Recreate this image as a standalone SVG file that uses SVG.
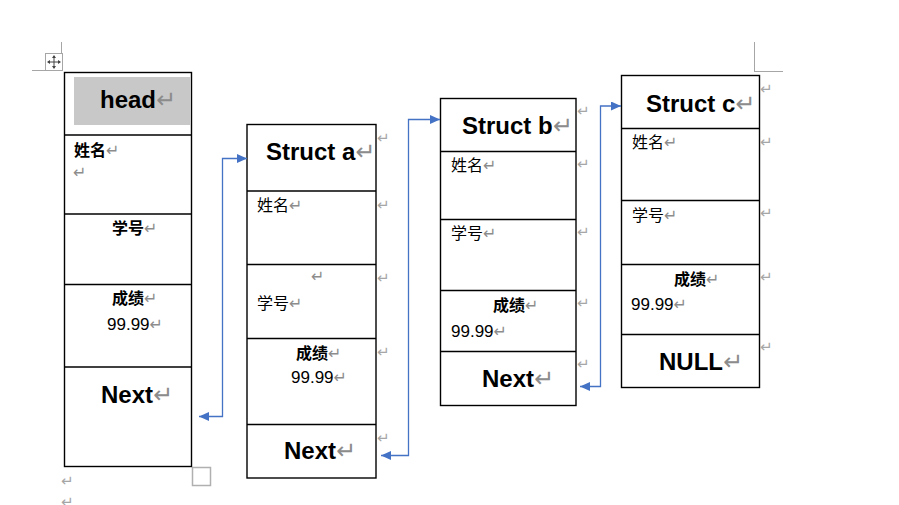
<svg xmlns="http://www.w3.org/2000/svg" width="899" height="505" viewBox="0 0 899 505">
<style>
.box{fill:#fff;stroke:#000;stroke-width:1.4}
.ln{stroke:#000;stroke-width:1.4}
.lat{font-family:"Liberation Sans",Arial,sans-serif;font-weight:bold;font-size:24px;fill:#000}
.cn{font-family:"Noto Sans CJK SC","Noto Sans CJK JP",sans-serif;font-size:16px;fill:#000}
.b{font-weight:bold}
.num{font-family:"Liberation Sans",Arial,sans-serif;font-size:17px;fill:#000}
.rm{font-family:"DejaVu Sans",sans-serif;font-weight:normal;fill:#8c8c8c}
.big{font-size:24px}
.sm{font-size:16px}
.om{font-family:"DejaVu Sans",sans-serif;font-size:15px;fill:#a6a6a6}
.con{fill:none;stroke:#4472C4;stroke-width:1.3}
.crop{stroke:#a6a6a6;stroke-width:1;fill:none}
</style>
<defs>
<marker id="ah" markerUnits="userSpaceOnUse" markerWidth="10" markerHeight="9" refX="10" refY="4.5" orient="auto-start-reverse">
<path d="M0,0 L10,4.5 L0,9 z" fill="#4472C4"/>
</marker>
</defs>
<rect width="899" height="505" fill="#fff"/>
<g id="marks">
<line class="crop" x1="61.5" y1="42" x2="61.5" y2="53"/>
<line class="crop" x1="32" y1="70.5" x2="45" y2="70.5"/>
<line class="crop" x1="754.5" y1="42" x2="754.5" y2="71.5"/>
<line class="crop" x1="754" y1="71.5" x2="783" y2="71.5"/>
<g id="movehandle">
<rect x="45.5" y="53.5" width="17" height="17" fill="#fff" stroke="#a6a6a6"/>
<line x1="54" y1="56" x2="54" y2="68" stroke="#444" stroke-width="1"/>
<line x1="48" y1="62" x2="60" y2="62" stroke="#444" stroke-width="1"/>
<path d="M54,55 L52,58 L56,58 z M54,69 L52,66 L56,66 z M47,62 L50,60 L50,64 z M61,62 L58,60 L58,64 z" fill="#444"/>
</g>
<rect x="192.5" y="467.5" width="18" height="18" fill="none" stroke="#b0b0b0" stroke-width="1.5"/>
<text class="om" x="61" y="486">↵</text>
<text class="om" x="61" y="507">↵</text>
</g>
<g id="head">
<rect class="box" x="64.5" y="72.5" width="127" height="394"/>
<rect x="74" y="77" width="117" height="48" fill="#c8c8c8"/>
<line class="ln" x1="64.5" y1="135" x2="191.5" y2="135"/>
<line class="ln" x1="64.5" y1="214" x2="191.5" y2="214"/>
<line class="ln" x1="64.5" y1="284.5" x2="191.5" y2="284.5"/>
<line class="ln" x1="64.5" y1="367" x2="191.5" y2="367"/>
<text class="lat" x="100" y="108">head<tspan class="rm big">↵</tspan></text>
<text class="cn b" x="74" y="156">姓名<tspan class="rm sm">↵</tspan></text>
<text class="rm sm" x="73" y="178">↵</text>
<text class="cn b" x="112" y="234">学号<tspan class="rm sm">↵</tspan></text>
<text class="cn b" x="112" y="304">成绩<tspan class="rm sm">↵</tspan></text>
<text class="num" x="107" y="330">99.99<tspan class="rm sm">↵</tspan></text>
<text class="lat" x="101" y="403" font-size="25">Next<tspan class="rm big">↵</tspan></text>
</g>
<g id="structA">
<rect class="box" x="247" y="124.5" width="129" height="353.5"/>
<line class="ln" x1="247" y1="191" x2="376" y2="191"/>
<line class="ln" x1="247" y1="264.5" x2="376" y2="264.5"/>
<line class="ln" x1="247" y1="338.5" x2="376" y2="338.5"/>
<line class="ln" x1="247" y1="424.5" x2="376" y2="424.5"/>
<text class="lat" x="266" y="160">Struct a<tspan class="rm big">↵</tspan></text>
<text class="cn" x="257" y="211">姓名<tspan class="rm sm">↵</tspan></text>
<text class="rm sm" x="311" y="282">↵</text>
<text class="cn" x="257" y="309">学号<tspan class="rm sm">↵</tspan></text>
<text class="cn b" x="296" y="359">成绩<tspan class="rm sm">↵</tspan></text>
<text class="num" x="291" y="383">99.99<tspan class="rm sm">↵</tspan></text>
<text class="lat" x="284" y="459" font-size="25">Next<tspan class="rm big">↵</tspan></text>
<text class="om" x="377" y="143">↵</text>
<text class="om" x="377" y="210">↵</text>
<text class="om" x="377" y="283">↵</text>
<text class="om" x="377" y="357">↵</text>
<text class="om" x="377" y="443">↵</text>
</g>
<g id="structB">
<rect class="box" x="440.5" y="98.5" width="135.5" height="307"/>
<line class="ln" x1="440.5" y1="151.5" x2="576" y2="151.5"/>
<line class="ln" x1="440.5" y1="219.5" x2="576" y2="219.5"/>
<line class="ln" x1="440.5" y1="290.5" x2="576" y2="290.5"/>
<line class="ln" x1="440.5" y1="351.5" x2="576" y2="351.5"/>
<text class="lat" x="462" y="134">Struct b<tspan class="rm big">↵</tspan></text>
<text class="cn" x="451" y="171">姓名<tspan class="rm sm">↵</tspan></text>
<text class="cn" x="451" y="239">学号<tspan class="rm sm">↵</tspan></text>
<text class="cn b" x="493" y="311">成绩<tspan class="rm sm">↵</tspan></text>
<text class="num" x="451" y="337">99.99<tspan class="rm sm">↵</tspan></text>
<text class="lat" x="482" y="387" font-size="25">Next<tspan class="rm big">↵</tspan></text>
<text class="om" x="577" y="116">↵</text>
<text class="om" x="577" y="169">↵</text>
<text class="om" x="577" y="237">↵</text>
<text class="om" x="577" y="308">↵</text>
<text class="om" x="577" y="369">↵</text>
</g>
<g id="structC">
<rect class="box" x="621.5" y="75.5" width="138" height="312"/>
<line class="ln" x1="621.5" y1="128.5" x2="759.5" y2="128.5"/>
<line class="ln" x1="621.5" y1="200.5" x2="759.5" y2="200.5"/>
<line class="ln" x1="621.5" y1="264.5" x2="759.5" y2="264.5"/>
<line class="ln" x1="621.5" y1="334.5" x2="759.5" y2="334.5"/>
<text class="lat" x="646" y="112">Struct c<tspan class="rm big">↵</tspan></text>
<text class="cn" x="632" y="148">姓名<tspan class="rm sm">↵</tspan></text>
<text class="cn" x="632" y="221">学号<tspan class="rm sm">↵</tspan></text>
<text class="cn b" x="674" y="285">成绩<tspan class="rm sm">↵</tspan></text>
<text class="num" x="631" y="310">99.99<tspan class="rm sm">↵</tspan></text>
<text class="lat" x="659" y="370">NULL<tspan class="rm big">↵</tspan></text>
<text class="om" x="760" y="94">↵</text>
<text class="om" x="760" y="147">↵</text>
<text class="om" x="760" y="218">↵</text>
<text class="om" x="760" y="282">↵</text>
<text class="om" x="760" y="352">↵</text>
</g>
<g id="connectors">
<polyline class="con" points="199,416.5 222.5,416.5 222.5,158.5 247,158.5" marker-start="url(#ah)" marker-end="url(#ah)"/>
<polyline class="con" points="381,455.5 408.5,455.5 408.5,119.5 440,119.5" marker-start="url(#ah)" marker-end="url(#ah)"/>
<polyline class="con" points="580,386.5 600.5,386.5 600.5,106 621,106" marker-start="url(#ah)" marker-end="url(#ah)"/>
</g>
</svg>
